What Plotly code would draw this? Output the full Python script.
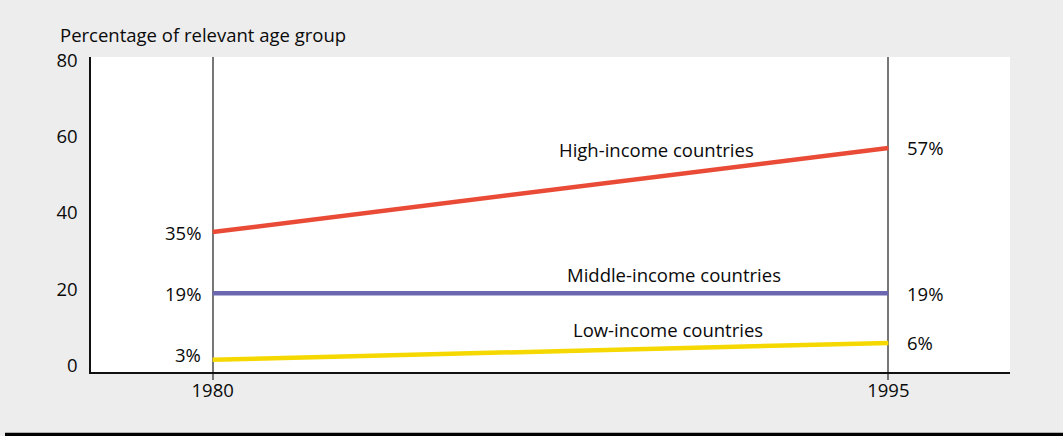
import plotly.graph_objects as go

years = [1980, 1995]
series_names = ["High-income countries", "Middle-income countries", "Low-income countries"]
high_income = [35, 57]
middle_income = [19, 19]
low_income = [1.6, 6]
high_labels = ["35%", "57%"]
middle_labels = ["19%", "19%"]
low_labels = ["3%", "6%"]
colors = ["#e94b37", "#6c68b0", "#f5d800"]
y_ticks = [0, 20, 40, 60, 80]
x_ticks = [1980, 1995]
# label positions for series names (data coords)
name_x = [1989.85, 1990.25, 1990.1]
name_y = [56.5, 23.8, 9.4]
label_left_y = [35, 19, 3]

FONT = "Open Sans"
FS = 18.5
fig = go.Figure()
all_vals = [high_income, middle_income, low_income]
all_labels = [high_labels, middle_labels, low_labels]
for name, vals, col in zip(series_names, all_vals, colors):
    fig.add_trace(go.Scatter(x=years, y=vals, mode="lines", name=name,
                             line=dict(color=col, width=4.5), showlegend=False))

L, R, T, B = 91, 53, 57, 64
W, H = 1063, 436
pw, ph = W - L - R, H - T - B

annotations = []
for i in range(3):
    annotations.append(dict(x=years[0], y=label_left_y[i], text=all_labels[i][0],
                            xref="x", yref="y", showarrow=False, xanchor="right",
                            xshift=-10, font=dict(size=FS, color="#0a0a0a", family=FONT)))
    annotations.append(dict(x=years[1], y=all_vals[i][1], text=all_labels[i][1],
                            xref="x", yref="y", showarrow=False, xanchor="left",
                            xshift=17, font=dict(size=FS, color="#0a0a0a", family=FONT)))
    annotations.append(dict(x=name_x[i], y=name_y[i], text=series_names[i],
                            xref="x", yref="y", showarrow=False, xanchor="center",
                            font=dict(size=FS, color="#0a0a0a", family=FONT)))
annotations.append(dict(x=(58 - L) / pw, y=(H - B - 34) / ph, xref="paper", yref="paper",
                        text="Percentage of relevant age group",
                        showarrow=False, xanchor="left", yanchor="middle",
                        font=dict(size=FS, color="#0a0a0a", family=FONT)))

fig.update_layout(
    width=W, height=H,
    margin=dict(l=L, r=R, t=T, b=B),
    paper_bgcolor="#ededed",
    plot_bgcolor="white",
    font=dict(family=FONT, size=FS, color="#0a0a0a"),
    annotations=annotations,
    xaxis=dict(range=[1977.3, 1997.7], tickvals=x_ticks, ticktext=[str(v) for v in x_ticks],
               showgrid=True, gridcolor="#777", gridwidth=1.5,
               ticks="outside", ticklen=6, tickcolor="#777", tickwidth=1.5,
               ticklabelstandoff=-5,
               showline=True, linecolor="#111", linewidth=1.5, zeroline=False,
               tickfont=dict(size=FS, family=FONT, color="#0a0a0a")),
    yaxis=dict(range=[-1.6, 80.8], tickvals=y_ticks, showgrid=False, zeroline=False,
               showline=True, linecolor="#111", linewidth=1.5, ticks="", ticklabelstandoff=8,
               tickfont=dict(size=FS, family=FONT, color="#0a0a0a")),
    shapes=[dict(type="line", xref="paper", yref="paper",
                 x0=(5 - L) / pw, x1=(W - L) / pw,
                 y0=(H - B - 434.5) / ph, y1=(H - B - 434.5) / ph,
                 line=dict(color="#000", width=3.5))],
)
fig.write_html("out.html")
